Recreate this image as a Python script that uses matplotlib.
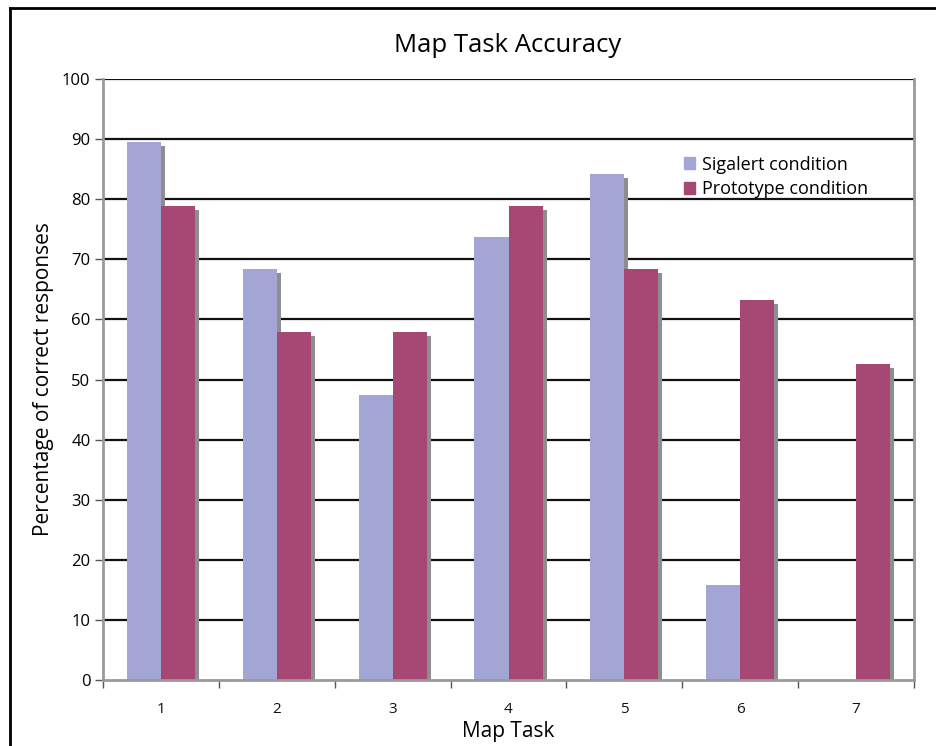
import matplotlib
matplotlib.use("Agg")
import matplotlib.pyplot as plt
import matplotlib.transforms as mtransforms
from matplotlib.lines import Line2D
from matplotlib.patches import Patch
import numpy as np

plt.rcParams['font.family'] = ['Open Sans', 'DejaVu Sans']

tasks = ["1", "2", "3", "4", "5", "6", "7"]
sigalert = [89.5, 68.4, 47.4, 73.7, 84.2, 15.8, 0.0]
prototype = [78.9, 57.9, 57.9, 78.9, 68.4, 63.2, 52.6]
yticks = [0, 10, 20, 30, 40, 50, 60, 70, 80, 90, 100]

c_sig = "#A3A6D4"
c_pro = "#A64873"
c_shadow = "#8E8E8E"

W, H = 936, 746
fig = plt.figure(figsize=(W / 100, H / 100), dpi=100)
ax = fig.add_axes([103 / W, 1 - 680 / H, (914 - 103) / W, (680 - 79) / H])

x = np.arange(1, len(tasks) + 1)
bw = 0.294
shadow_tr = ax.transData + mtransforms.ScaledTranslation(4 / 100, -4 / 100, fig.dpi_scale_trans)

# gridlines
for yv in yticks[1:]:
    ax.axhline(yv, color="#111111", lw=1.6, zorder=1)

for vals, off, col in [(sigalert, -bw / 2, c_sig), (prototype, bw / 2, c_pro)]:
    ax.bar(x + off, vals, width=bw, color=c_shadow, transform=shadow_tr, zorder=2, linewidth=0)
    ax.bar(x + off, vals, width=bw, color=col, zorder=3, linewidth=0)

ax.set_xlim(0.5, 7.5)
ax.set_ylim(0, 100)

ax.set_yticks(yticks)
ax.set_yticklabels([str(v) for v in yticks])
ax.set_xticks(x)
ax.set_xticklabels(tasks)
ax.set_xticks(np.arange(0.5, 8.0, 1.0), minor=True)
ax.tick_params(axis="x", which="major", length=0, labelsize=11, pad=16, colors="#111111")
ax.tick_params(axis="x", which="minor", length=6, width=1, color="#555555", direction="out")
ax.tick_params(axis="y", which="major", length=6, width=1, color="#555555", labelsize=12, pad=3)

for side in ["left", "right", "bottom"]:
    ax.spines[side].set_color("#9A9A9A")
    ax.spines[side].set_linewidth(2)
ax.spines["top"].set_visible(False)
ax.spines["bottom"].set_zorder(5)

ax.set_xlabel("Map Task", fontsize=15, labelpad=3)
ax.set_ylabel("Percentage of correct responses", fontsize=15, labelpad=6)
fig.text(508 / W, 1 - 45 / H, "Map Task Accuracy", fontsize=18.5, ha="center", va="center")

handles = [Patch(color=c_sig), Patch(color=c_pro)]
ax.legend(handles, ["Sigalert condition", "Prototype condition"], loc="upper left",
          bbox_to_anchor=((671 - 103) / 811, (680 - 143) / 601), frameon=False,
          fontsize=13, handlelength=0.65, handleheight=0.65, handletextpad=0.35,
          labelspacing=0.35, borderpad=0.2)

# outer frame (top and left edges)
fig.add_artist(Line2D([9.5 / W, 9.5 / W], [0, 1 - 7.5 / H], color="black", lw=2, transform=fig.transFigure))
fig.add_artist(Line2D([9.5 / W, 1], [1 - 7.5 / H, 1 - 7.5 / H], color="black", lw=2, transform=fig.transFigure))

fig.savefig("out.png", dpi=100)
